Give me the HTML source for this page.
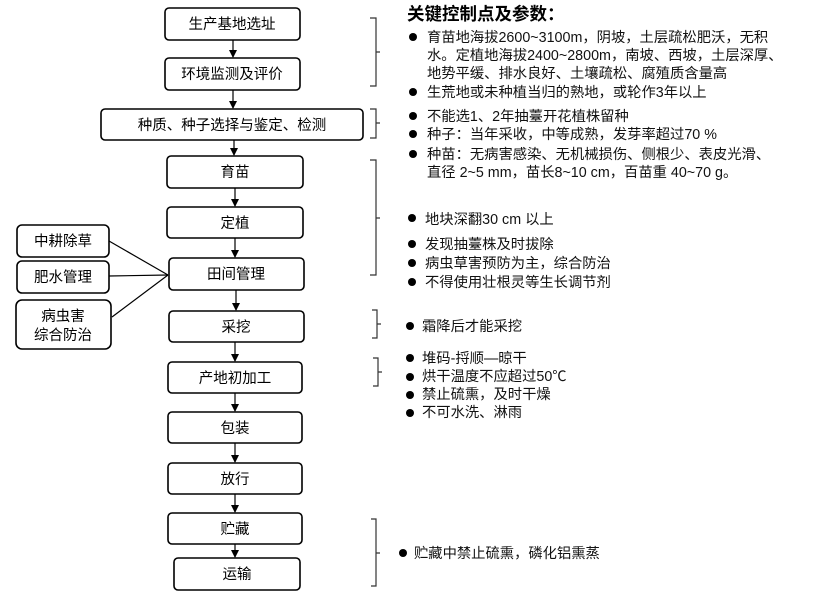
<!DOCTYPE html>
<html><head><meta charset="utf-8"><style>
html,body{margin:0;padding:0;background:#fff;}
svg{display:block;font-family:"Liberation Sans","Noto Sans CJK SC",sans-serif;}
</style></head><body>
<svg width="823" height="601" viewBox="0 0 823 601" xmlns="http://www.w3.org/2000/svg">
<defs><marker id="a" markerWidth="8" markerHeight="8" refX="7" refY="4" orient="auto" markerUnits="userSpaceOnUse"><path d="M0,0 L8,4 L0,8 z" fill="#000"/></marker></defs>
<g fill="#fff" stroke="#000" stroke-width="1.6">
<rect x="165" y="8" width="135" height="32" rx="4"/>
<rect x="165" y="58" width="135" height="32" rx="4"/>
<rect x="101" y="109" width="262" height="31" rx="4"/>
<rect x="167" y="156" width="136" height="32" rx="4"/>
<rect x="167" y="207" width="136" height="31" rx="4"/>
<rect x="169" y="258" width="135" height="32" rx="4"/>
<rect x="169" y="311" width="135" height="31" rx="4"/>
<rect x="168" y="362" width="134" height="31" rx="4"/>
<rect x="168" y="412" width="134" height="31" rx="4"/>
<rect x="168" y="463" width="134" height="31" rx="4"/>
<rect x="168" y="513" width="134" height="31" rx="4"/>
<rect x="174" y="558" width="126" height="32" rx="4"/>
<rect x="17" y="225" width="92" height="32" rx="5"/>
<rect x="17" y="261" width="92" height="32" rx="5"/>
<rect x="16" y="300" width="95" height="49" rx="6"/>
</g>
<g stroke="#000" stroke-width="1.2" marker-end="url(#a)">
<line x1="233" y1="40" x2="233" y2="57"/>
<line x1="233" y1="90" x2="233" y2="108"/>
<line x1="234" y1="140" x2="234" y2="155"/>
<line x1="235" y1="188" x2="235" y2="206"/>
<line x1="235" y1="238" x2="235" y2="257"/>
<line x1="236" y1="290" x2="236" y2="310"/>
<line x1="235" y1="342" x2="235" y2="361"/>
<line x1="235" y1="393" x2="235" y2="411"/>
<line x1="235" y1="443" x2="235" y2="462"/>
<line x1="235" y1="494" x2="235" y2="512"/>
<line x1="235" y1="544" x2="235" y2="557"/>
</g>
<g stroke="#000" stroke-width="1.2" fill="none">
<line x1="109" y1="241" x2="168" y2="275"/>
<line x1="109" y1="276" x2="168" y2="275"/>
<line x1="112" y1="317" x2="168" y2="275"/>
</g>
<g stroke="#333" stroke-width="1.2" fill="none">
<path d="M370,18 H376 V86 H370 M376,52 H380"/>
<path d="M370,109 H376 V138 H370 M376,123 H380"/>
<path d="M370,160 H376 V275 H370 M376,218 H380"/>
<path d="M372,310 H377 V338 H372 M377,324 H381"/>
<path d="M373,358 H378 V386 H373 M378,372 H382"/>
<path d="M371,519 H376 V586 H371 M376,553 H380"/>
</g>
<g font-size="14.5" text-anchor="middle" fill="#000">
<text x="232" y="29">生产基地选址</text>
<text x="232" y="79">环境监测及评价</text>
<text x="232" y="130">种质、种子选择与鉴定、检测</text>
<text x="235" y="177">育苗</text>
<text x="235" y="228">定植</text>
<text x="236" y="279">田间管理</text>
<text x="236" y="332">采挖</text>
<text x="235" y="383">产地初加工</text>
<text x="235" y="433">包装</text>
<text x="235" y="484">放行</text>
<text x="235" y="534">贮藏</text>
<text x="237" y="579">运输</text>
<text x="63" y="246">中耕除草</text>
<text x="63" y="282">肥水管理</text>
<text x="63" y="321">病虫害</text>
<text x="63" y="340">综合防治</text>
</g>
<text x="407" y="20" font-size="17.5" font-weight="bold">关键控制点及参数：</text>
<g font-size="14.3" fill="#111">
<text x="427" y="42">育苗地海拔2600~3100m，阴坡，土层疏松肥沃，无积</text>
<text x="427" y="60">水。定植地海拔2400~2800m，南坡、西坡，土层深厚、</text>
<text x="427" y="78">地势平缓、排水良好、土壤疏松、腐殖质含量高</text>
<text x="427" y="97">生荒地或未种植当归的熟地，或轮作3年以上</text>
<text x="427" y="121">不能选1、2年抽薹开花植株留种</text>
<text x="427" y="139">种子：当年采收，中等成熟，发芽率超过70 %</text>
<text x="427" y="159">种苗：无病害感染、无机械损伤、侧根少、表皮光滑、</text>
<text x="427" y="177">直径 2~5 mm，苗长8~10 cm，百苗重 40~70 g。</text>
<text x="425" y="224">地块深翻30 cm 以上</text>
<text x="425" y="249">发现抽薹株及时拔除</text>
<text x="425" y="268">病虫草害预防为主，综合防治</text>
<text x="425" y="287">不得使用壮根灵等生长调节剂</text>
<text x="422" y="331">霜降后才能采挖</text>
<text x="422" y="363">堆码-捋顺—晾干</text>
<text x="422" y="381">烘干温度不应超过50℃</text>
<text x="422" y="399">禁止硫熏，及时干燥</text>
<text x="422" y="417">不可水洗、淋雨</text>
<text x="414" y="558">贮藏中禁止硫熏，磷化铝熏蒸</text>
</g>
<g fill="#000">
<circle cx="413" cy="37" r="4"/><circle cx="413" cy="92" r="4"/>
<circle cx="413" cy="116" r="4"/><circle cx="413" cy="134" r="4"/><circle cx="413" cy="154" r="4"/>
<circle cx="412" cy="218" r="4"/><circle cx="412" cy="244" r="4"/><circle cx="412" cy="263" r="4"/><circle cx="412" cy="282" r="4"/>
<circle cx="410" cy="326" r="4"/>
<circle cx="410" cy="358" r="4"/><circle cx="410" cy="377" r="4"/><circle cx="410" cy="395" r="4"/><circle cx="410" cy="413" r="4"/>
<circle cx="403" cy="553" r="4"/>
</g>
</svg>
</body></html>
